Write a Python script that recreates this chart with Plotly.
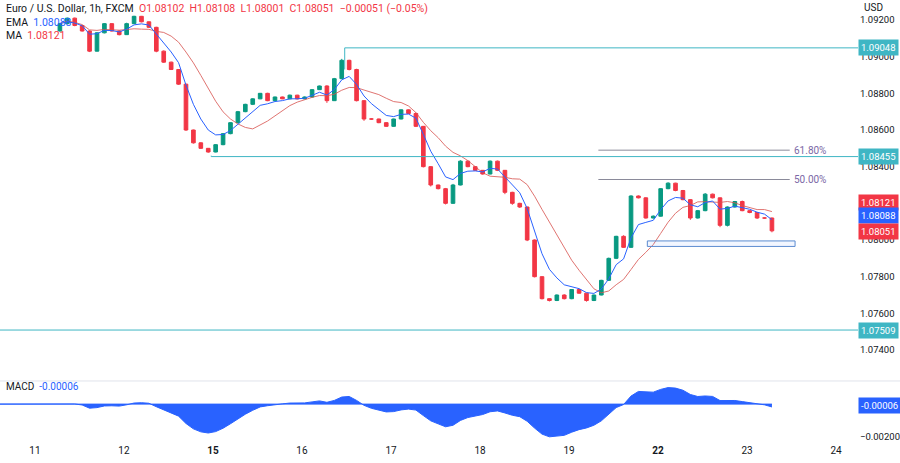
import plotly.graph_objects as go
import numpy as np

# ---- data ----
day_labels = ["11", "12", "15", "16", "17", "18", "19", "22", "23", "24"]
day_pos = [0, 1, 2, 3, 4, 5, 6, 7, 8, 9]
bold_days = ["15", "22"]

closes = [1.0918, 1.0921, 1.0917, 1.0914, 1.0903, 1.0913, 1.0918, 1.0914, 1.0912, 1.0918,
          1.0922, 1.0919, 1.0916, 1.0903, 1.0897, 1.0893, 1.0885, 1.0860, 1.0853, 1.0850,
          1.0848, 1.0852, 1.0858, 1.0864, 1.0870, 1.0874, 1.0877, 1.0880, 1.0876, 1.0878,
          1.0877, 1.0879, 1.0877, 1.0878, 1.0882, 1.0884, 1.0876, 1.0888, 1.0898, 1.0893,
          1.0876, 1.0866, 1.0866, 1.0864, 1.0862, 1.0866, 1.0871, 1.0869, 1.0862, 1.0840,
          1.0830, 1.0828, 1.0820, 1.0830, 1.0843, 1.0840, 1.0838, 1.0836, 1.0843, 1.0838,
          1.0826, 1.0820, 1.0818, 1.0800, 1.0780, 1.0768, 1.0767, 1.0770, 1.0768, 1.0773,
          1.0771, 1.0767, 1.0770, 1.0778, 1.0790, 1.0802, 1.0796, 1.0824, 1.0823, 1.0812,
          1.0813, 1.0828, 1.0831, 1.0827, 1.0822, 1.0812, 1.0816, 1.0825, 1.0823, 1.0808,
          1.0818, 1.0821, 1.0816, 1.0815, 1.0812, 1.0812, 1.0805]
first_open = 1.0914
upper_wick = [4, 3, 3, 2, 3, 4, 3, 2, 3, 5, 3, 2, 2, 3, 4, 3, 2, 3, 2, 3,
              2, 3, 3, 2, 4, 3, 3, 2, 3, 2, 2, 3, 2, 3, 3, 2, 4, 4, 8, 3,
              4, 3, 3, 2, 3, 2, 3, 2, 6, 2, 3, 2, 4, 6, 5, 3, 3, 2, 4, 3,
              2, 3, 3, 2, 3, 2, 2, 3, 4, 2, 2, 2, 2, 3, 4, 3, 6, 4, 3, 3,
              4, 3, 5, 2, 3, 3, 4, 6, 3, 2, 3, 3, 5, 2, 2, 2, 2]
lower_wick = [3, 3, 4, 3, 5, 2, 3, 3, 4, 2, 2, 3, 3, 6, 4, 3, 4, 5, 4, 3,
              4, 2, 3, 3, 2, 3, 4, 2, 3, 3, 2, 2, 3, 2, 3, 2, 12, 2, 3, 5,
              4, 10, 4, 3, 3, 3, 2, 3, 4, 4, 8, 4, 6, 3, 2, 3, 3, 3, 2, 4,
              10, 8, 5, 6, 4, 4, 5, 3, 4, 3, 3, 6, 3, 2, 3, 4, 3, 3, 3, 3,
              3, 3, 3, 4, 3, 10, 3, 3, 3, 10, 6, 3, 3, 4, 5, 3, 8]

hlines = [1.09048, 1.08455, 1.07509]
hline_start = [3.48, 1.98, -0.5]
fib_levels = [1.0849, 1.0833]
fib_labels = ["61.80%", "50.00%"]
box_lo, box_hi = 1.07965, 1.07995
last_labels = ["1.08121", "1.08088", "1.08051"]
last_label_pos = [1.08207, 1.08131, 1.08049]
macd_last = "-0.00006"

# ---- derived ----
n = len(closes)
xs = [0.28 + i / 12 for i in range(n)]
opens = [first_open] + closes[:-1]
highs = [max(o, c) + w * 1e-5 for o, c, w in zip(opens, closes, upper_wick)]
lows = [min(o, c) - w * 1e-5 for o, c, w in zip(opens, closes, lower_wick)]

def ema(v, p):
    a = 2 / (p + 1); out = []; s = v[0]
    for x in v:
        s = a * x + (1 - a) * s; out.append(s)
    return np.array(out)

def sma(v, p):
    v = np.array(v); out = []
    for i in range(len(v)):
        out.append(v[max(0, i - p + 1):i + 1].mean())
    return np.array(out)

ema_line = ema(closes, 5)
ma_line = sma(closes, 10)
macd = ema(closes, 6) - ema(closes, 13)

GREEN, RED = "#089981", "#f23645"
TEAL = "#3fb6c4"
FONT = "Roboto"

fig = go.Figure()
fig.add_trace(go.Candlestick(x=xs, open=opens, high=highs, low=lows, close=closes,
                             increasing=dict(line=dict(color=GREEN, width=1), fillcolor=GREEN),
                             decreasing=dict(line=dict(color=RED, width=1), fillcolor=RED),
                             whiskerwidth=0, showlegend=False, xaxis="x", yaxis="y"))
fig.add_trace(go.Scatter(x=xs, y=ma_line, mode="lines", line=dict(color="#d9534f", width=1),
                         opacity=0.8, showlegend=False, xaxis="x", yaxis="y"))
fig.add_trace(go.Scatter(x=xs, y=ema_line, mode="lines", line=dict(color="#2962ff", width=1),
                         showlegend=False, xaxis="x", yaxis="y"))
fig.add_trace(go.Scatter(x=[-0.5] + xs, y=[0.0] + list(macd), mode="lines", fill="tozeroy",
                         fillcolor="#2962ff", line=dict(color="#2962ff", width=1),
                         showlegend=False, xaxis="x2", yaxis="y2"))

xr = [-0.393, 9.247]
shapes = []
for lv, st in zip(hlines, hline_start):
    shapes.append(dict(type="line", xref="x", yref="y", x0=st, x1=xr[1], y0=lv, y1=lv,
                       line=dict(color=TEAL, width=1)))
shapes.append(dict(type="line", xref="x", yref="y", x0=3.48, x1=3.48, y0=1.0893, y1=1.09048,
                   line=dict(color=TEAL, width=1)))
shapes.append(dict(type="line", xref="x", yref="y", x0=1.98, x1=1.98, y0=1.0846, y1=1.08455,
                   line=dict(color=TEAL, width=1)))
for lv in fib_levels:
    shapes.append(dict(type="line", xref="x", yref="y", x0=6.33, x1=8.48, y0=lv, y1=lv,
                       line=dict(color="#8a8a9a", width=1)))
shapes.append(dict(type="rect", xref="x", yref="y", x0=6.88, x1=8.54, y0=box_lo, y1=box_hi,
                   line=dict(color="#5b8bd0", width=1), fillcolor="rgba(41,98,255,0.06)"))
shapes.append(dict(type="line", xref="paper", yref="paper", x0=0, x1=1.05, y0=0.14, y1=0.14,
                   line=dict(color="#e0e3eb", width=1)))
shapes.append(dict(type="line", xref="x2", yref="y2", x0=xr[0], x1=xs[-1], y0=0, y1=0,
                   line=dict(color="#2962ff", width=1)))

ann = []
for lab, lv in zip(fib_labels, fib_levels):
    ann.append(dict(x=8.5, y=lv, xref="x", yref="y", text=lab, showarrow=False, xanchor="left",
                    font=dict(color="#7b68a6", size=10, family=FONT)))

def tag(y, text, bg, yref="y"):
    ann.append(dict(x=1.0, y=y, xref="paper", yref=yref, text=text, showarrow=False,
                    xanchor="left", bgcolor=bg, font=dict(color="white", size=9.5, family=FONT),
                    borderpad=2, xshift=0))

for lv in hlines:
    tag(lv, f"{lv:.5f}", TEAL)
for lab, pos, col in zip(last_labels, last_label_pos, [RED, "#2962ff", RED]):
    tag(pos, lab, col)
tag(-0.00006, macd_last, "#2962ff", yref="y2")

ann.append(dict(x=0.005, y=1.0, xref="paper", yref="paper", yanchor="top", xanchor="left",
                showarrow=False, align="left",
                text="Euro / U.S. Dollar, 1h, FXCM  <span style='color:#f23645'>O1.08102  H1.08108  L1.08001  C1.08051  −0.00051 (−0.05%)</span><br>"
                     "EMA  <span style='color:#2962ff'>1.08088</span><br>MA  <span style='color:#f23645'>1.08121</span>",
                font=dict(size=10.5, family=FONT, color="#131722")))
ann.append(dict(x=1.005, y=1.0, xref="paper", yref="paper", yanchor="top", xanchor="left",
                showarrow=False, text="USD", font=dict(size=10, family=FONT, color="#131722")))
ann.append(dict(x=0.005, y=0.128, xref="paper", yref="paper", yanchor="middle", xanchor="left",
                showarrow=False, text="MACD  <span style='color:#2962ff'>-0.00006</span>",
                font=dict(size=10, family=FONT, color="#131722")))

ticktext = [f"<b>{d}</b>" if d in bold_days else d for d in day_labels]

fig.update_layout(
    width=900, height=463, margin=dict(l=0, r=42, t=0, b=20, autoexpand=False),
    paper_bgcolor="white", plot_bgcolor="white",
    font=dict(family=FONT, size=10, color="#131722"),
    xaxis=dict(range=xr, domain=[0, 1], anchor="y", showticklabels=False, showgrid=False,
               zeroline=False, rangeslider=dict(visible=False), tickvals=day_pos),
    xaxis2=dict(range=xr, domain=[0, 1], anchor="y2", tickvals=day_pos, ticktext=ticktext,
                showgrid=False, zeroline=False, ticks="", tickfont=dict(size=10), automargin=False),
    yaxis=dict(domain=[0.142, 1], range=[1.07236, 1.09309], side="right", showgrid=False,
               zeroline=False, tickvals=[1.074, 1.076, 1.078, 1.080, 1.084, 1.086, 1.088, 1.090, 1.092],
               tickformat=".5f", ticks="", tickfont=dict(size=9.5), automargin=False,
               ticklabelstandoff=1),
    yaxis2=dict(domain=[0, 0.135], range=[-0.00236, 0.00127], side="right", showgrid=False,
                zeroline=False, tickvals=[-0.002], tickformat=".5f", ticks="", tickfont=dict(size=9.5),
                automargin=False, ticklabelstandoff=1),
    shapes=shapes, annotations=ann,
)
fig.write_html("out.html", config={"displayModeBar": False},
               post_script="document.body.style.margin='0';document.body.style.overflow='hidden';")
